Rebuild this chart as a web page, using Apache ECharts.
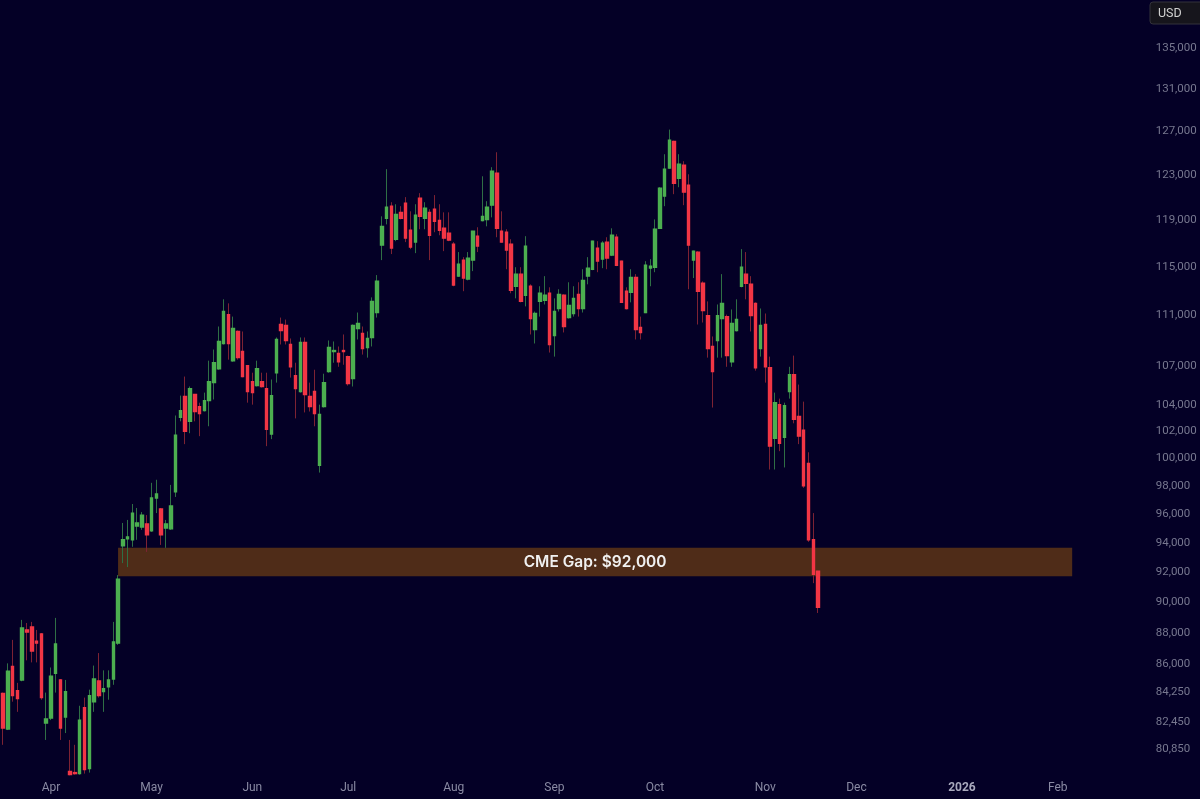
<!DOCTYPE html>
<html>
<head>
<meta charset="utf-8">
<style>
  html, body { margin: 0; padding: 0; background: #040026; }
  #div_chart { width: 1200px; height: 799px; }
</style>
<script src="https://cdn.jsdelivr.net/npm/echarts@6/dist/echarts.min.js"></script>
</head>
<body>
<div id="div_chart"></div>
<script>
// daily bars, oldest first
var opens = [84190,82030,85870,84370,85030,88200,88390,87480,87940,82390,82700,85450,85030,82760,79520,79460,79400,83320,79690,83690,
  84970,84310,84610,85090,87350,93790,94280,94210,95170,95100,95310,94830,97140,96360,95030,94970,97570,103040,104620,102740,
  104770,103850,103550,104310,105690,106770,108760,111080,107400,109720,108120,107000,105770,105460,105770,105230,101780,106460,110280,110200,
  108680,106230,105000,108840,104620,105000,99480,103850,106540,108120,107960,108200,107720,106010,109960,109560,108440,109240,111250,116870,
  119180,120250,117380,119710,120510,118150,117130,120960,119180,119710,119980,119000,118320,117890,116960,114250,115600,114000,115600,117640,
  119000,119090,120340,123180,118060,117980,116960,113410,114420,112660,113410,109880,112160,112250,112830,109400,111580,112660,110840,111170,
  112740,111580,114250,114830,116620,115680,117130,116020,117550,115510,113000,112910,114150,110040,111250,114920,115000,118320,121140,123640,
  126090,122730,123910,122110,115600,116280,113660,111000,108520,109000,110760,110920,107320,109800,113410,114420,113570,112000,108360,110280,
  106850,101480,104000,101550,105000,106310,103110,102070,99630,94210,92070];
var highs = [84250,86070,87560,84850,88850,88650,88720,88200,88000,84250,85810,88980,85090,85030,81380,81090,83440,83940,84430,85930,
  86720,85630,85630,88720,91810,95380,95590,96710,96430,96140,95930,98220,98440,96430,95590,98070,103180,104690,106160,105390,
  104800,104150,104920,107400,108280,110120,112330,112000,110920,109800,109720,107050,106460,107400,106460,106460,105930,109240,110840,110680,
  109160,107240,109240,109240,105690,106690,104000,106380,109000,108920,108520,109480,107800,110280,111250,110120,109720,112490,114340,119360,
  123550,120600,120420,120250,121050,119800,120420,121400,120600,119980,121230,120420,119710,119710,117130,116280,115850,116280,118100,118410,
  122910,120690,123730,125090,119800,118240,117380,115000,115000,117640,113570,111330,113410,114250,113320,112410,113160,112740,113740,113410,
  113740,114830,115850,117250,117210,117210,117550,118320,117810,115550,113320,114830,114420,110920,115510,115680,119090,121930,124910,127180,
  126150,124910,124270,123090,116400,116350,113820,112160,109320,111910,114420,111080,111500,112330,116530,116280,114250,112080,111580,111170,
  107720,104920,104460,104150,106920,107800,105540,104230,100440,96070,92100];
var lows = [81090,81970,83690,83070,84950,86260,86130,86130,83810,81380,82570,84250,81380,81790,79300,79340,79340,79400,79460,83070,
  83940,83070,83810,84730,87240,92620,92350,93730,94210,94900,93380,94760,96070,93860,93660,94900,97210,102740,101040,101850,
  102740,101630,103480,102370,104390,106690,108680,107480,107320,107480,106100,104150,104000,105390,105310,100890,101410,105690,108680,108680,
  106080,102960,104920,103410,103480,102370,98960,103780,106460,107240,106920,107080,105460,105390,109080,107880,107640,108520,110840,115600,
  118660,116110,117210,119090,117130,116530,116190,118240,118240,115600,117980,117720,116360,117210,113410,114200,113000,113900,114670,116280,
  118920,118490,119270,117550,117100,114830,112830,112410,112080,111750,109480,108760,110920,111910,108040,107720,111330,109640,110760,110920,
  110920,111250,113570,114750,114580,114920,114830,115940,115090,112050,111500,112080,109080,109080,111200,113410,114580,118300,120250,123600,
  121310,121930,120340,113160,114090,110280,110440,107640,103780,107640,107640,106920,106920,109720,113320,112330,109720,106620,107720,105690,
  99180,99180,100520,99330,104460,102590,101040,97860,94070,91270,89300];
var closes = [82090,85570,84060,83880,88330,88070,86850,87350,83940,82640,85270,87300,82090,84310,79340,79400,82570,79630,84060,85090,
  84060,84490,85030,87430,91540,94210,94410,96070,95380,95930,94550,97140,97420,94550,95310,96570,101700,103550,102000,105230,
  103480,103330,104310,105770,107240,108920,111330,108760,109960,107640,106160,105000,104920,106770,105390,102150,104690,109080,109800,109000,
  106920,105230,108840,104770,103850,103330,103260,105690,108440,108200,107320,108120,105620,110200,110360,108360,109160,112160,113820,118490,
  120160,116620,119530,119180,117470,116700,119450,119360,120070,117720,118920,118150,117470,117300,113510,115260,114090,115770,118060,116790,
  119360,120160,123360,118320,117130,116450,113080,114420,112160,116790,110760,111170,112830,112660,108680,111330,112740,110120,111830,112410,
  111580,113900,114920,117210,115510,117040,115770,117720,115170,112080,111580,114150,109880,109640,115170,115090,118240,121850,123550,126190,
  122290,124000,121490,116870,116360,113000,111410,108360,106540,111000,112000,107800,110360,110680,115000,113660,111000,106850,110200,106920,
  100890,104150,101110,103920,106310,102890,101630,98000,94210,91870,89670];

// x axis keeps running past the last bar
var barCount = 238;
var monthBars = [10,31,52,72,94,115,136,159,178,200,220];
var monthText = ['Apr','May','Jun','Jul','Aug','Sep','Oct','Nov','Dec','2026','Feb'];
var priceTicks = [135000,131000,127000,123000,119000,115000,111000,107000,104000,102000,100000,98000,96000,94000,92000,90000,88000,86000,84250,82450,80850];
var gapTop = 93660;
var gapBottom = 91740;
var gapFirstBar = 24;
var gapLastBar = 223;
var gapText = 'CME Gap: $92,000';

var categories = [];
for (var i = 0; i < barCount; i++) {
    var m = monthBars.indexOf(i);
    categories.push(m >= 0 ? monthText[m] : '');
}

var wickData = [];
var bodyData = [];
for (var j = 0; j < opens.length; j++) {
    wickData.push([opens[j], closes[j], lows[j], highs[j]]);
    bodyData.push([opens[j], closes[j], Math.min(opens[j], closes[j]), Math.max(opens[j], closes[j])]);
}

var myChart = echarts.init(document.getElementById('div_chart'));
var option = {
    animation: false,
    backgroundColor: '#040026',
    textStyle: { fontFamily: 'Roboto, sans-serif' },
    grid: { left: -0.7, top: 0, width: 1142.4, height: 778 },
    xAxis: {
        type: 'category',
        data: categories,
        boundaryGap: true,
        axisLine: { show: false },
        axisTick: { show: false },
        splitLine: { show: false },
        axisLabel: {
            interval: 0,
            margin: 4,
            fontSize: 12,
            color: '#8a8aa3',
            formatter: function (v) { return v === '2026' ? '{y|2026}' : v; },
            rich: { y: { fontSize: 12, fontWeight: 'bold', color: '#a9a9bd' } }
        }
    },
    yAxis: {
        type: 'log',
        logBase: 10,
        position: 'right',
        min: 79146,
        max: 139825,
        axisLine: { show: false },
        axisTick: { show: false },
        splitLine: { show: false },
        minorTick: { show: false },
        minorSplitLine: { show: false },
        axisLabel: {
            customValues: priceTicks,
            margin: 14,
            padding: [5, 0, 0, 0],
            fontSize: 11.5,
            color: '#77778f',
            formatter: function (v) { return Math.round(v).toLocaleString('en-US'); }
        }
    },
    graphic: [
        { type: 'rect', shape: { x: 1150, y: 2, width: 60, height: 22, r: 3 }, style: { fill: '#16151c', stroke: '#33323a', lineWidth: 1 } },
        { type: 'text', x: 1158, y: 7, style: { text: 'USD', fill: '#d0d0d0', font: '12.5px Roboto, sans-serif' } }
    ],
    series: [
        {
            // wicks, dimmer than the bodies
            type: 'candlestick',
            data: wickData,
            barWidth: 1,
            z: 2,
            itemStyle: { color: '#2f6f45', color0: '#7d2233', borderColor: '#2f6f45', borderColor0: '#7d2233', borderWidth: 1 },
            markArea: {
                silent: true,
                z: 1,
                itemStyle: { color: '#4f2c18' },
                label: { show: true, position: 'inside', color: '#f0f0f0', fontSize: 15.5, fontWeight: 600, fontFamily: 'Inter, sans-serif' },
                data: [[
                    { name: gapText, xAxis: gapFirstBar, yAxis: gapTop },
                    { xAxis: gapLastBar, yAxis: gapBottom }
                ]]
            }
        },
        {
            type: 'candlestick',
            data: bodyData,
            barWidth: 3,
            z: 3,
            itemStyle: { color: '#4caf50', color0: '#f23645', borderColor: '#4caf50', borderColor0: '#f23645', borderWidth: 1.4 }
        }
    ]
};
myChart.setOption(option);
</script>
</body>
</html>
